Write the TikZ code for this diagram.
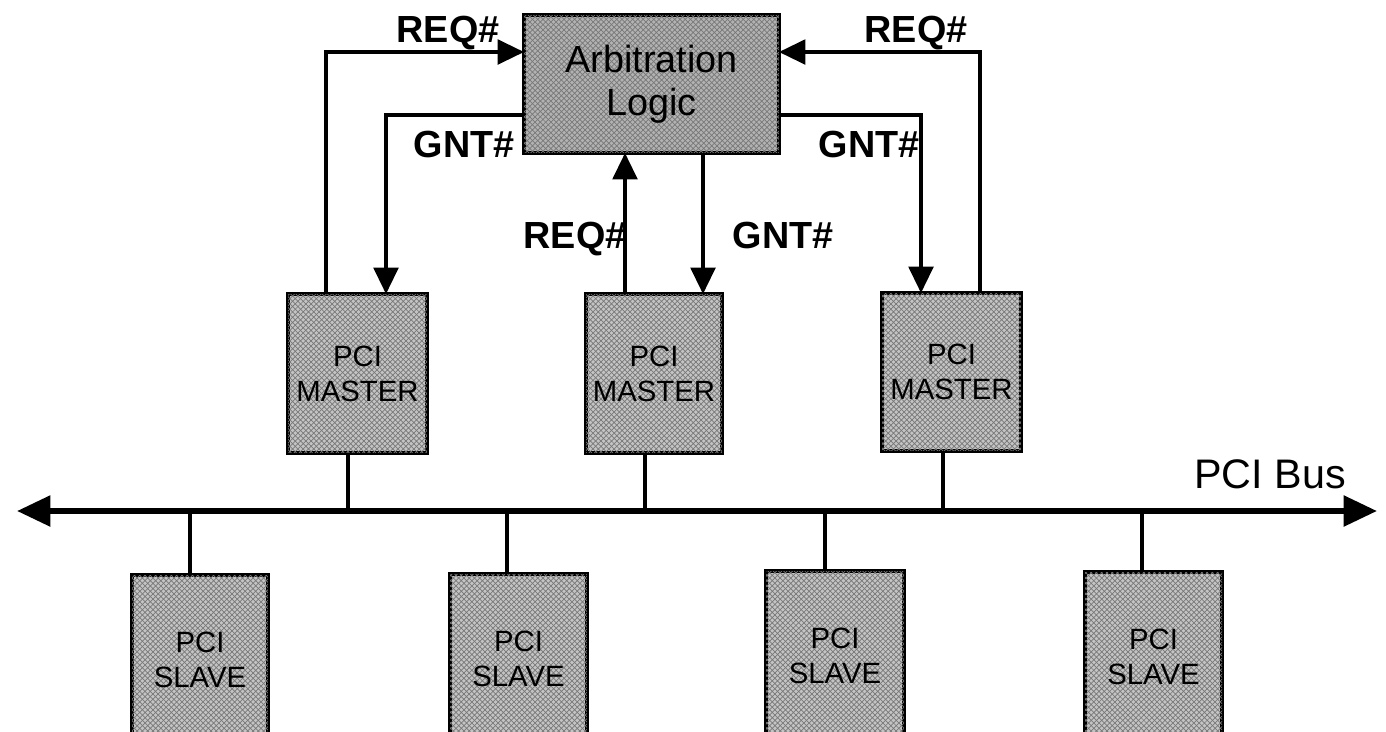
\documentclass[tikz,border=0pt]{standalone}
\usepackage{fontspec}
\setmainfont{Liberation Sans}
\usetikzlibrary{arrows.meta,patterns}
\definecolor{boxfill}{RGB}{196,196,196}
\definecolor{arbfill}{RGB}{178,178,178}
\definecolor{hatch}{RGB}{120,120,120}
\tikzset{
  unitbox/.style={draw=black, line width=2.3pt, fill=boxfill, inner sep=0pt, outer sep=0pt, align=center,
     postaction={pattern=crosshatch, pattern color=hatch}},
  mbox/.style={unitbox, font=\fontsize{16.7}{20}\selectfont},
  sig/.style={line width=2pt, -{Triangle[length=15pt,width=14pt]}},
  tap/.style={line width=2pt},
  bus/.style={line width=3.4pt, {Triangle[length=19pt,width=17pt]}-{Triangle[length=19pt,width=17pt]}},
  lbl/.style={font=\fontsize{21.5}{24}\selectfont\bfseries, anchor=base, inner sep=0pt}
}
\begin{document}
\begin{tikzpicture}[x=0.02cm, y=-0.02cm]
\clip (0,0) rectangle (1386,731);
\fill[white] (0,0) rectangle (1386,731);
% boxes
\node[unitbox, fill=arbfill, minimum width=5.1cm, minimum height=2.76cm,
      font=\fontsize{21.5}{24.5}\selectfont] (arb) at (651.5,84) {Arbitration\\Logic};
\node[mbox, minimum width=2.78cm, minimum height=3.18cm] (m1) at (357.5,373.5) {PCI\\MASTER};
\node[mbox, minimum width=2.72cm, minimum height=3.18cm] (m2) at (654,373.5) {PCI\\MASTER};
\node[mbox, minimum width=2.78cm, minimum height=3.16cm] (m3) at (951.5,372) {PCI\\MASTER};
\node[mbox, minimum width=2.72cm, minimum height=3.4cm] (s1) at (200,660) {PCI\\SLAVE};
\node[mbox, minimum width=2.74cm, minimum height=3.4cm] (s2) at (518.5,659) {PCI\\SLAVE};
\node[mbox, minimum width=2.76cm, minimum height=3.4cm] (s3) at (835,656) {PCI\\SLAVE};
\node[mbox, minimum width=2.74cm, minimum height=3.4cm] (s4) at (1153.5,657) {PCI\\SLAVE};
% routing coordinates
\coordinate (r1) at (326,52);
\coordinate (g1) at (386,115);
\coordinate (r2) at (625,0);
\coordinate (g2) at (703,0);
\coordinate (g3) at (921,115);
\coordinate (r3) at (980,52);
% request / grant lines
\draw[sig] (m1.north -| r1) |- (arb.west |- r1);
\draw[sig] (arb.west |- g1) -| (m1.north -| g1);
\draw[sig] (m2.north -| r2) -- (arb.south -| r2);
\draw[sig] (arb.south -| g2) -- (m2.north -| g2);
\draw[sig] (arb.east |- g3) -| (m3.north -| g3);
\draw[sig] (m3.north -| r3) |- (arb.east |- r3);
% labels
\node[lbl] (lr1) at (448,42) {REQ\#};
\node[lbl] (lr3) at (916,42) {REQ\#};
\node[lbl] (lg1) at (464,157) {GNT\#};
\node[lbl] (lg3) at (869,157) {GNT\#};
\node[lbl] (lr2) at (575,248) {REQ\#};
\node[lbl] (lg2) at (783,248) {GNT\#};
% bus
\coordinate (busL) at (17,511);
\coordinate (busR) at (1377,511);
\draw[bus] (busL) -- (busR);
\node[font=\fontsize{23.5}{26}\selectfont, anchor=base, inner sep=0pt] (buslbl) at (1270,488) {PCI Bus};
% taps
\coordinate (t1) at (348,511);
\coordinate (t2) at (645,511);
\coordinate (t3) at (943,511);
\coordinate (u1) at (190,511);
\coordinate (u2) at (507,511);
\coordinate (u3) at (825,511);
\coordinate (u4) at (1142,511);
\draw[tap] (m1.south -| t1) -- (t1);
\draw[tap] (m2.south -| t2) -- (t2);
\draw[tap] (m3.south -| t3) -- (t3);
\draw[tap] (u1) -- (s1.north -| u1);
\draw[tap] (u2) -- (s2.north -| u2);
\draw[tap] (u3) -- (s3.north -| u3);
\draw[tap] (u4) -- (s4.north -| u4);
\end{tikzpicture}
\end{document}
